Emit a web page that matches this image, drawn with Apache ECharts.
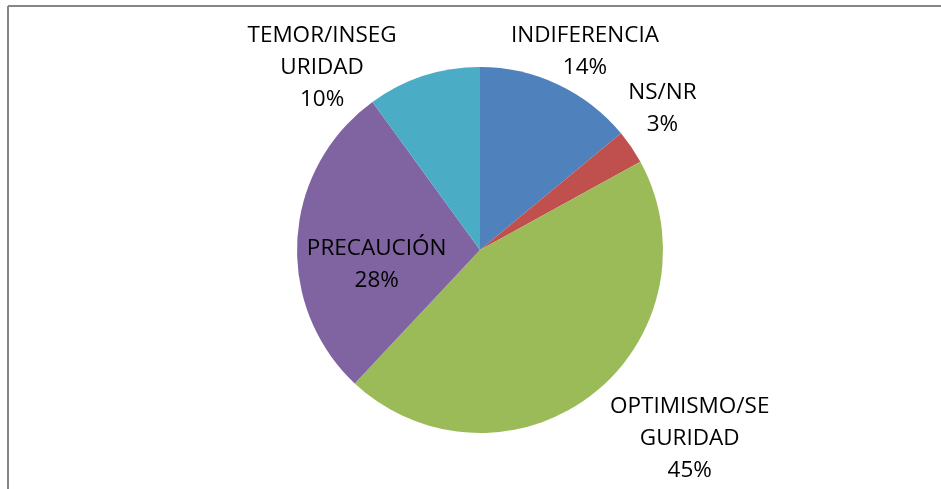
<!DOCTYPE html>
<html>
<head>
<meta charset="utf-8">
<title>Pie</title>
<script src="https://cdn.jsdelivr.net/npm/echarts@6/dist/echarts.min.js"></script>
<style>
  html, body { margin: 0; padding: 0; background: #fff; }
  #chart { width: 941px; height: 489px; }
</style>
</head>
<body>
<div id="chart"></div>
<script>
// data
const categories = ['INDIFERENCIA', 'NS/NR', 'OPTIMISMO/SEGURIDAD', 'PRECAUCIÓN', 'TEMOR/INSEGURIDAD']
const labelText = ['INDIFERENCIA', 'NS/NR', 'OPTIMISMO/SE\nGURIDAD', 'PRECAUCIÓN', 'TEMOR/INSEG\nURIDAD']
const values = [14, 3, 45, 28, 10]
const colors = ['#4F81BD', '#C0504D', '#9BBB59', '#8064A2', '#4BACC6']

// label nudges (Excel "best fit" placement)
const nudges = [[10, 3], [-2, -16], [73, 12], [-9, 21], [-89, 30]]

const chart = echarts.init(document.getElementById('chart'))

chart.setOption({
  animation: false,
  graphic: [
    { type: 'line', shape: { x1: 8, y1: 6, x2: 941, y2: 6 }, style: { stroke: '#868686', lineWidth: 2 } },
    { type: 'line', shape: { x1: 8, y1: 6, x2: 8, y2: 489 }, style: { stroke: '#868686', lineWidth: 2 } }
  ],
  series: [{
    type: 'pie',
    center: [480, 250],
    radius: 183,
    startAngle: 90,
    clockwise: true,
    avoidLabelOverlap: false,
    percentPrecision: 0,
    label: {
      position: 'outside',
      distanceToLabelLine: 0,
      color: '#000',
      fontFamily: 'Open Sans',
      fontSize: 22.5,
      lineHeight: 32,
      formatter: p => labelText[p.dataIndex] + '\n' + p.percent + '%'
    },
    labelLine: { show: false, length: 40, length2: 0 },
    labelLayout: p => ({
      align: 'center',
      dx: nudges[p.dataIndex][0],
      dy: nudges[p.dataIndex][1]
    }),
    data: categories.map((name, i) => ({
      name: name,
      value: values[i],
      itemStyle: { color: colors[i] },
      label: name === 'PRECAUCIÓN' ? { position: 'inside' } : undefined
    }))
  }]
})
</script>
</body>
</html>
